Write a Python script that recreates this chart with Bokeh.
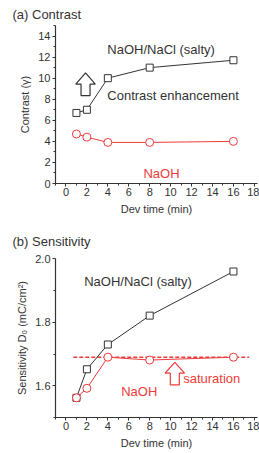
from bokeh.plotting import figure
from bokeh.layouts import column
from bokeh.models import Range1d, Label, SingleIntervalTicker, FixedTicker, PrintfTickFormatter
from bokeh.embed import file_html
from bokeh.resources import INLINE

# ---- data ----
dev_time = [1, 2, 4, 8, 16]
contrast_salty = [6.7, 7.0, 10.0, 11.0, 11.7]
contrast_naoh = [4.7, 4.4, 3.9, 3.9, 4.0]
sens_salty = [1.562, 1.652, 1.73, 1.821, 1.96]
sens_naoh = [1.562, 1.592, 1.69, 1.681, 1.69]
saturation_level = 1.69
saturation_extent = [0.7, 17.5]

FONT = "Liberation Sans"
BLACK = "#333333"
RED = "#ee3a3a"
W = 259


def style(p, xlabel, ylabel, title, standoff):
    p.outline_line_color = None
    p.grid.visible = False
    p.background_fill_color = "white"
    p.border_fill_color = "white"
    for ax in (p.xaxis[0], p.yaxis[0]):
        ax.axis_line_color = BLACK
        ax.axis_line_width = 1.2
        ax.major_tick_line_color = BLACK
        ax.minor_tick_line_color = BLACK
        ax.major_tick_out = 3
        ax.major_tick_in = 0
        ax.minor_tick_out = 2
        ax.minor_tick_in = 0
        ax.major_label_text_font = FONT
        ax.major_label_text_font_size = "11px"
        ax.major_label_text_color = BLACK
        ax.axis_label_text_font = FONT
        ax.axis_label_text_font_size = "11px"
        ax.axis_label_text_font_style = "normal"
        ax.axis_label_text_color = BLACK
    p.xaxis[0].axis_label = xlabel
    p.yaxis[0].axis_label = ylabel
    p.xaxis[0].ticker = SingleIntervalTicker(interval=2, num_minor_ticks=2)
    p.xaxis[0].major_label_standoff = 1
    p.xaxis[0].axis_label_standoff = 4
    p.yaxis[0].major_label_standoff = 2
    p.yaxis[0].axis_label_standoff = 4
    p.title.text = title
    p.title.align = "left"
    p.title.offset = -43
    p.title.standoff = standoff
    p.title.text_font = FONT
    p.title.text_font_size = "13px"
    p.title.text_font_style = "normal"
    p.title.text_color = BLACK
    p.title.text_line_height = 0.7


def arrow(p, cx, y0, yb, yt, hw=0.93, sw=0.43, color=BLACK):
    xs = [cx - sw, cx - sw, cx - hw, cx, cx + hw, cx + sw, cx + sw]
    ys = [y0, yb, yb, yt, yb, yb, y0]
    p.patch(xs, ys, fill_color=None, line_color=color, line_width=1.2)


def lbl(p, x, y, text, color=BLACK, size="13px"):
    p.add_layout(Label(x=x, y=y, text=text, text_font=FONT, text_font_size=size,
                       text_color=color, text_baseline="middle", text_align="left"))


# ---- (a) Contrast ----
p1 = figure(width=W, height=220, x_range=Range1d(-1, 18.3), y_range=Range1d(0, 15),
            output_backend="svg", toolbar_location=None,
            min_border_left=55, min_border_right=2, min_border_top=22, min_border_bottom=37)
style(p1, "Dev time (min)", "Contrast (γ)", "(a) Contrast", 8)
p1.yaxis[0].ticker = SingleIntervalTicker(interval=2, num_minor_ticks=2)

p1.line(dev_time, contrast_salty, line_color=BLACK, line_width=1)
p1.scatter(dev_time, contrast_salty, marker="square", size=7, fill_color="white",
           line_color=BLACK, line_width=1)
p1.line(dev_time, contrast_naoh, line_color=RED, line_width=1)
p1.scatter(dev_time, contrast_naoh, marker="circle", size=8, fill_color="white",
           line_color=RED, line_width=1)

arrow(p1, 1.87, 8.35, 9.43, 10.5)
lbl(p1, 3.95, 12.76, "NaOH/NaCl (salty)")
lbl(p1, 3.95, 8.37, "Contrast enhancement")
lbl(p1, 7.4, 0.93, "NaOH", color=RED)

# ---- (b) Sensitivity ----
p2 = figure(width=W, height=233, x_range=Range1d(-1, 18.3), y_range=Range1d(1.5, 2.001),
            output_backend="svg", toolbar_location=None,
            min_border_left=55, min_border_right=2, min_border_top=38, min_border_bottom=36)
style(p2, "Dev time (min)", "Sensitivity D₀ (mC/cm²)", "(b) Sensitivity", 20)
p2.yaxis[0].ticker = FixedTicker(ticks=[1.6, 1.8, 2.0], minor_ticks=[1.5, 1.7, 1.9])
p2.yaxis[0].formatter = PrintfTickFormatter(format="%.1f")

p2.line(saturation_extent, [saturation_level, saturation_level], line_color=RED,
        line_width=1.5, line_dash="4 2")
p2.line(dev_time, sens_salty, line_color=BLACK, line_width=1)
p2.scatter(dev_time, sens_salty, marker="square", size=7, fill_color="white",
           line_color=BLACK, line_width=1)
p2.line(dev_time, sens_naoh, line_color=RED, line_width=1)
p2.scatter(dev_time, sens_naoh, marker="circle", size=8, fill_color="white",
           line_color=RED, line_width=1)

arrow(p2, 10.4, 1.603, 1.640, 1.674, color=RED)
lbl(p2, 1.74, 1.930, "NaOH/NaCl (salty)")
lbl(p2, 11.2, 1.624, "saturation", color=RED)
lbl(p2, 5.28, 1.582, "NaOH", color=RED)

layout = column(p1, p2, spacing=0)
open("out.html", "w").write(file_html(layout, INLINE))
